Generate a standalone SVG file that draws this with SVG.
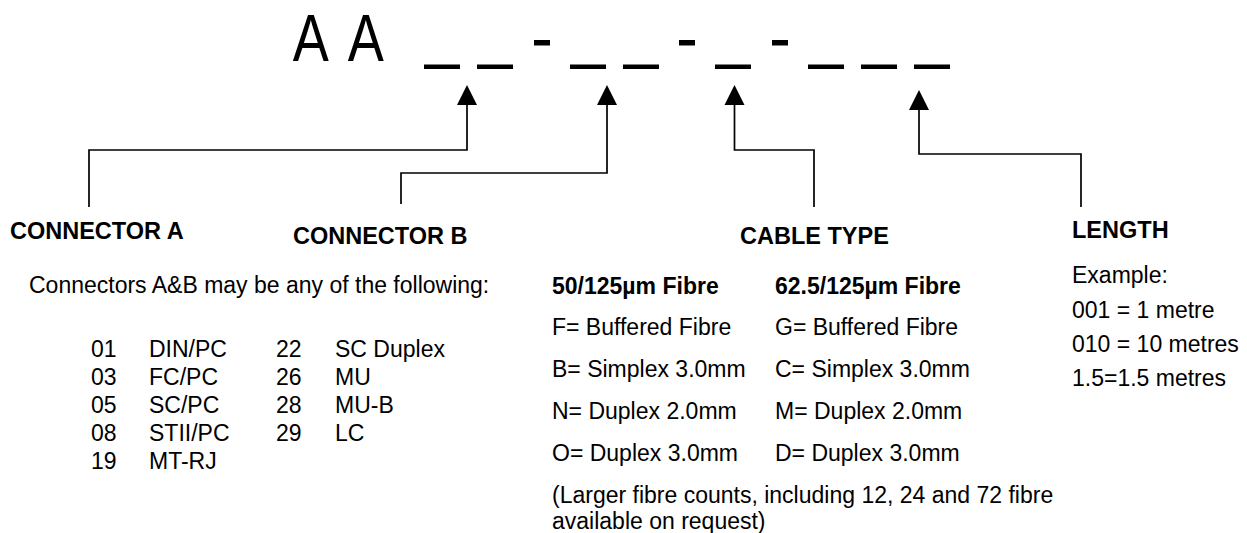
<svg xmlns="http://www.w3.org/2000/svg" width="1247" height="533" viewBox="0 0 1247 533">
<style>
text{font-family:"Liberation Sans",Arial,sans-serif;fill:#000}
.lbl{font-size:23.5px;font-weight:bold}
.body{font-size:23px}
.hd{font-size:23px;font-weight:bold}
.bar{fill:#000}
.conn{fill:none;stroke:#000;stroke-width:1.7}
.head{fill:#000}
</style>
<g id="code">
<text x="357" y="61" font-size="66" letter-spacing="6" transform="scale(0.82 1)">A A</text>
<rect class="bar" x="424" y="64.5" width="36" height="4.5"/>
<rect class="bar" x="477" y="64.5" width="36" height="4.5"/>
<rect class="bar" x="534" y="40" width="16" height="5.5"/>
<rect class="bar" x="570" y="64.5" width="36" height="4.5"/>
<rect class="bar" x="623" y="64.5" width="36" height="4.5"/>
<rect class="bar" x="679" y="40" width="16" height="5.5"/>
<rect class="bar" x="715" y="64.5" width="36" height="4.5"/>
<rect class="bar" x="772" y="40" width="16" height="5.5"/>
<rect class="bar" x="808" y="64.5" width="36" height="4.5"/>
<rect class="bar" x="861" y="64.5" width="36" height="4.5"/>
<rect class="bar" x="914" y="64.5" width="36" height="4.5"/>
</g>
<g id="connectors">
<path class="conn" d="M89,207 V150 H467 V105"/>
<polygon class="head" points="467,85 457,105 477,105"/>
<path class="conn" d="M401,204 V173 H607 V105"/>
<polygon class="head" points="607,85 597,105 617,105"/>
<path class="conn" d="M814,207 V150 H734.5 V105"/>
<polygon class="head" points="734.5,85 724.5,105 744.5,105"/>
<path class="conn" d="M1081,207 V154 H919 V110"/>
<polygon class="head" points="919,90 909,110 929,110"/>
</g>
<g id="connector-a">
<text class="lbl" x="10" y="239">CONNECTOR A</text>
</g>
<g id="connector-b">
<text class="lbl" x="293" y="244">CONNECTOR B</text>
</g>
<g id="connector-list">
<text class="body" x="29" y="293">Connectors A&amp;B may be any of the following:</text>
<text class="body" x="91" y="357">01</text><text class="body" x="149" y="357">DIN/PC</text>
<text class="body" x="91" y="385">03</text><text class="body" x="149" y="385">FC/PC</text>
<text class="body" x="91" y="413">05</text><text class="body" x="149" y="413">SC/PC</text>
<text class="body" x="91" y="441">08</text><text class="body" x="149" y="441">STII/PC</text>
<text class="body" x="91" y="469">19</text><text class="body" x="149" y="469">MT-RJ</text>
<text class="body" x="276" y="357">22</text><text class="body" x="335" y="357">SC Duplex</text>
<text class="body" x="276" y="385">26</text><text class="body" x="335" y="385">MU</text>
<text class="body" x="276" y="413">28</text><text class="body" x="335" y="413">MU-B</text>
<text class="body" x="276" y="441">29</text><text class="body" x="335" y="441">LC</text>
</g>
<g id="cable-type">
<text class="lbl" x="740" y="244">CABLE TYPE</text>
<text class="hd" x="552" y="294">50/125µm Fibre</text>
<text class="hd" x="775" y="294">62.5/125µm Fibre</text>
<text class="body" x="552" y="335">F= Buffered Fibre</text>
<text class="body" x="775" y="335">G= Buffered Fibre</text>
<text class="body" x="552" y="377">B= Simplex 3.0mm</text>
<text class="body" x="775" y="377">C= Simplex 3.0mm</text>
<text class="body" x="552" y="419">N= Duplex 2.0mm</text>
<text class="body" x="775" y="419">M= Duplex 2.0mm</text>
<text class="body" x="552" y="461">O= Duplex 3.0mm</text>
<text class="body" x="775" y="461">D= Duplex 3.0mm</text>
<text class="body" x="552" y="503">(Larger fibre counts, including 12, 24 and 72 fibre</text>
<text class="body" x="552" y="529">available on request)</text>
</g>
<g id="length">
<text class="lbl" x="1072" y="238">LENGTH</text>
<text class="body" x="1072" y="283">Example:</text>
<text class="body" x="1072" y="318">001 = 1 metre</text>
<text class="body" x="1072" y="352">010 = 10 metres</text>
<text class="body" x="1072" y="386">1.5=1.5 metres</text>
</g>
</svg>
